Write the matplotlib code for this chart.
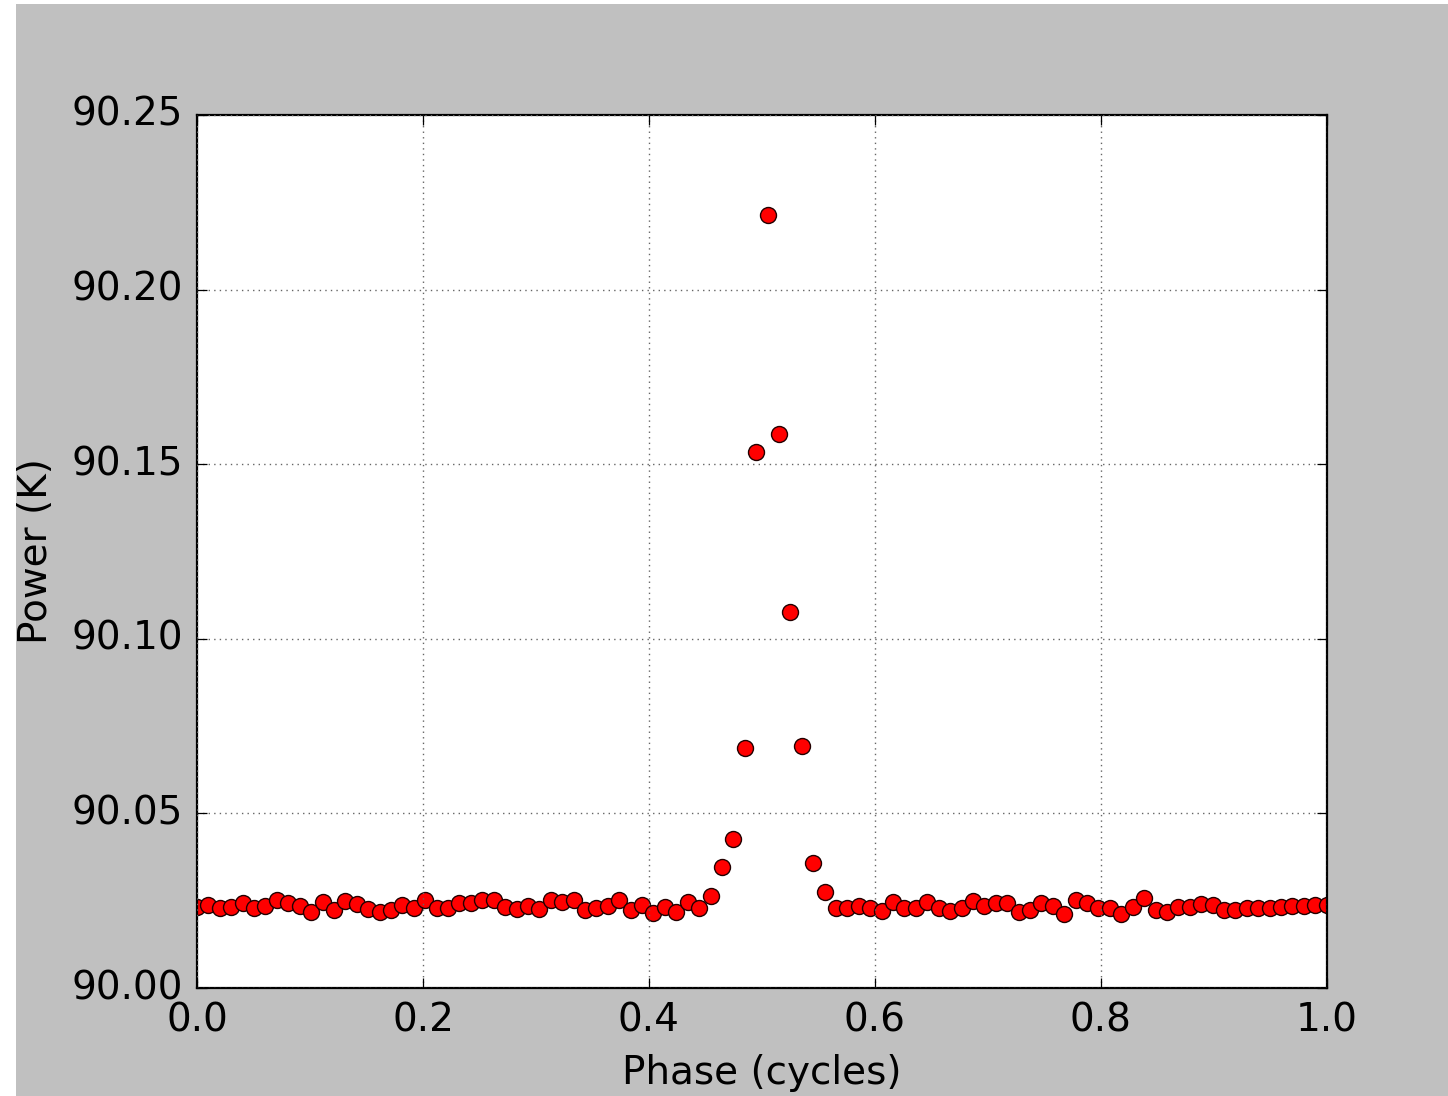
import matplotlib
matplotlib.use('Agg')
import matplotlib.pyplot as plt
import numpy as np
from matplotlib.patches import Rectangle
from matplotlib.ticker import FormatStrFormatter

plt.style.use('classic')
plt.rcParams['font.family'] = 'DejaVu Sans'

# phase bins (100 evenly spaced phases, 0..1)
phase = np.linspace(0.0, 1.0, 100)

# power above 90 K
BASE = 90.0
excess = [
    0.0233,
    0.0238, 0.0228, 0.0233, 0.0244, 0.0228, 0.0236, 0.0251, 0.0243, 0.0236, 0.0217,
    0.0246, 0.0222, 0.0248, 0.0240, 0.0225, 0.0218, 0.0223, 0.0238, 0.0230, 0.0251,
    0.0230, 0.0228, 0.0244, 0.0244, 0.0251, 0.0251, 0.0233, 0.0226, 0.0235, 0.0226,
    0.0251, 0.0245, 0.0251, 0.0223, 0.0230, 0.0235, 0.0251, 0.0223, 0.0238, 0.0215,
    0.0233, 0.0217, 0.0245, 0.0228, 0.0264, 0.0347, 0.0427, 0.0687, 0.1535, 0.2214,
    0.1587, 0.1077, 0.0693, 0.0358, 0.0276, 0.0228, 0.0228, 0.0234, 0.0228, 0.0220,
    0.0245, 0.0228, 0.0228, 0.0247, 0.0228, 0.0221, 0.0228, 0.0250, 0.0235, 0.0244,
    0.0244, 0.0217, 0.0223, 0.0244, 0.0235, 0.0212, 0.0251, 0.0244, 0.0230, 0.0230,
    0.0211, 0.0233, 0.0259, 0.0224, 0.0217, 0.0232, 0.0233, 0.0240, 0.0238, 0.0223,
    0.0223, 0.0230, 0.0230, 0.0230, 0.0231, 0.0236, 0.0236, 0.0237, 0.0237,
]
power = BASE + np.array(excess)

x_ticks = [0.0, 0.2, 0.4, 0.6, 0.8, 1.0]
y_ticks = [90.00, 90.05, 90.10, 90.15, 90.20, 90.25]

W, H = 1448, 1096
fig = plt.figure(figsize=(W / 100, H / 100), dpi=100, facecolor='white')
# grey canvas of the original screenshot, offset a little from the corner
fig.patches.append(Rectangle((16 / W, 0), 1, 1 - 4 / H, transform=fig.transFigure,
                             facecolor='#c0c0c0', edgecolor='none', zorder=-1))

ax = fig.add_axes([197 / W, 1 - 988 / H, (1326.7 - 197) / W, (988 - 115) / H])
ax.set_facecolor('white')

ax.plot(phase, power, 'o', color='red', markeredgecolor='#220000',
        markersize=11.5, markeredgewidth=1.0, linestyle='none')

ax.set_xlim(0.0, 1.0)
ax.set_ylim(90.0, 90.25)
ax.set_xticks(x_ticks)
ax.set_yticks(y_ticks)
ax.xaxis.set_major_formatter(FormatStrFormatter('%.1f'))
ax.yaxis.set_major_formatter(FormatStrFormatter('%.2f'))

ax.grid(True, linestyle=':', color='#666666', linewidth=1.0)
for s in ax.spines.values():
    s.set_linewidth(1.6)
ax.tick_params(direction='in', length=7, width=0.9, labelsize=28, pad=10,
               top=True, right=True)

ax.set_xlabel('Phase (cycles)', fontsize=28, labelpad=10)
ax.set_ylabel('Power (K)', fontsize=28, labelpad=12)

fig.savefig('out.png', dpi=100, facecolor=fig.get_facecolor())
